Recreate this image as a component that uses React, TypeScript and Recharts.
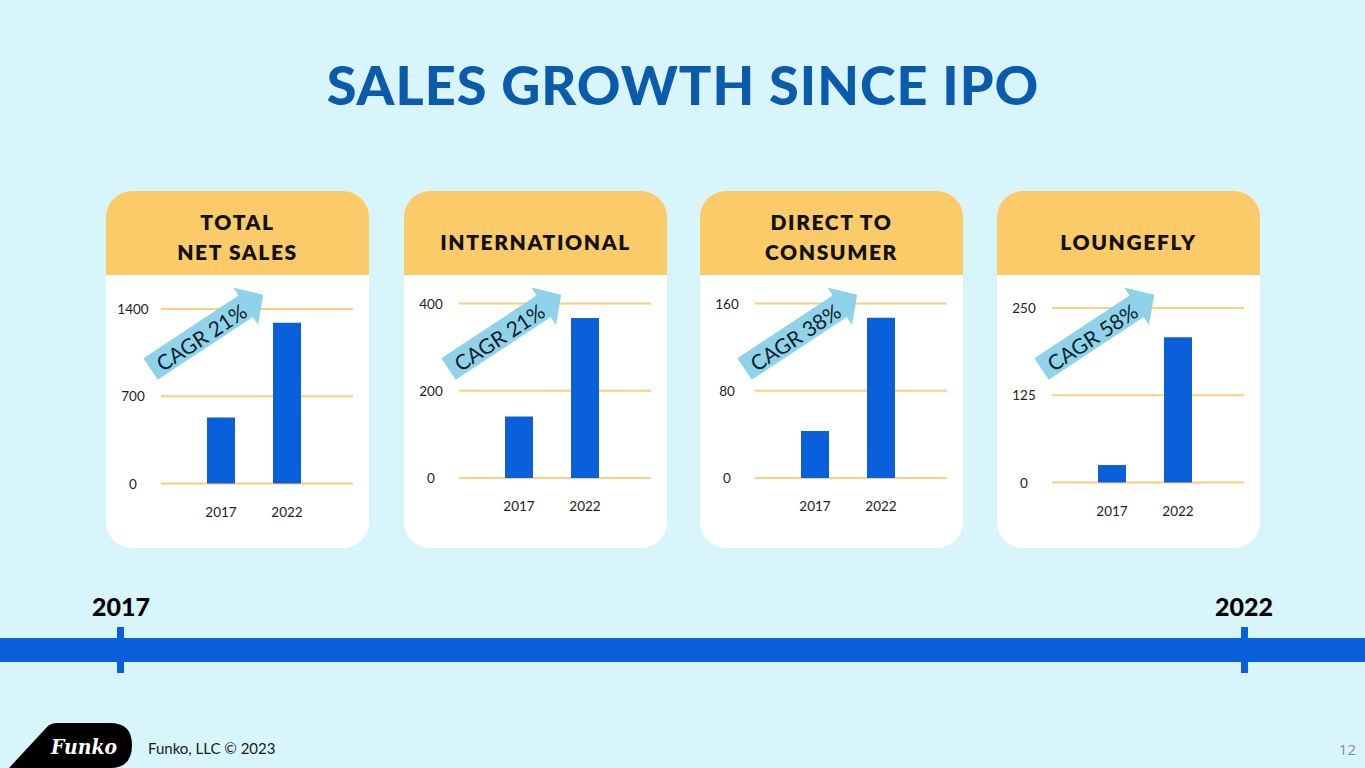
import React from 'react';
import { BarChart, Bar, XAxis, YAxis, CartesianGrid } from 'recharts';

// data (USD millions, approx.)
const years = ['2017', '2022'];
const totalNetSales = [530, 1290];
const international = [141, 367];
const directToConsumer = [43, 147];
const loungefly = [25, 208];

const totalTicks = [0, 700, 1400];
const internationalTicks = [0, 200, 400];
const dtcTicks = [0, 80, 160];
const loungeflyTicks = [0, 125, 250];

const panelTitles = [['TOTAL', 'NET SALES'], ['INTERNATIONAL'], ['DIRECT TO', 'CONSUMER'], ['LOUNGEFLY']];
const cagrLabels = ['CAGR 21%', 'CAGR 21%', 'CAGR 38%', 'CAGR 58%'];
const timelineYears = ['2017', '2022'];

const FONT = 'Lato, "Noto Sans", sans-serif';
const BG = '#D9F5FC';
const BLUE = '#0A5FDB';
const TITLE_BLUE = '#0B5BAD';
const YELLOW = '#FBCB69';
const GRID = '#F9D07C';
const ARROW = '#8FD3EA';

const CARD_W = 263;
const CARD_H = 357;
const CARD_TOP = 191;
const HEADER_H = 84;
const PLOT_H = 174.5;
const AXIS_H = 30;

const panels = [
  { left: 106, values: totalNetSales, ticks: totalTicks, plotTop: 118 },
  { left: 404, values: international, ticks: internationalTicks, plotTop: 112.5 },
  { left: 700, values: directToConsumer, ticks: dtcTicks, plotTop: 112.5 },
  { left: 997, values: loungefly, ticks: loungeflyTicks, plotTop: 117 },
];

const YTick = ({ x, y, payload }: any) => (
  <text x={x - 26} y={y} textAnchor="middle" dominantBaseline="central" fontSize={13.5} fill="#222" fontFamily={FONT}>
    {payload.value}
  </text>
);

const XTick = ({ x, y, payload }: any) => (
  <text x={x} y={y + 26} textAnchor="middle" dominantBaseline="central" fontSize={13.5} fill="#222" fontFamily={FONT}>
    {payload.value}
  </text>
);

function Panel({ index }: { index: number }) {
  const p = panels[index];
  const data = years.map((year, i) => ({ year, value: p.values[i] }));
  const max = p.ticks[p.ticks.length - 1];
  const bottom = CARD_H - p.plotTop - PLOT_H - AXIS_H;
  const lines = panelTitles[index];
  const lineYs = lines.length === 2 ? [30, 60] : [50];

  return (
    <div
      style={{
        position: 'absolute',
        left: p.left,
        top: CARD_TOP,
        width: CARD_W,
        height: CARD_H,
        borderRadius: 26,
        overflow: 'hidden',
        background: '#fff',
      }}
    >
      <div style={{ position: 'absolute', left: 0, top: 0, width: CARD_W, height: HEADER_H, background: YELLOW }} />
      <svg width={CARD_W} height={HEADER_H} style={{ position: 'absolute', left: 0, top: 0 }}>
        {lines.map((line, i) => (
          <text
            key={line}
            x={CARD_W / 2}
            y={lineYs[i]}
            textAnchor="middle"
            dominantBaseline="central"
            fontSize={21}
            fontWeight={800}
            letterSpacing={1.6}
            fill="#111"
            fontFamily={FONT}
          >
            {line}
          </text>
        ))}
      </svg>
      <div style={{ position: 'absolute', left: 0, top: 0 }}>
        <BarChart
          width={CARD_W}
          height={CARD_H}
          data={data}
          margin={{ top: p.plotTop, right: 16, bottom, left: 0 }}
        >
          <CartesianGrid vertical={false} stroke={GRID} strokeWidth={2} />
          <XAxis
            dataKey="year"
            height={AXIS_H}
            axisLine={false}
            tickLine={false}
            tickSize={0}
            padding={{ left: 27, right: 33 }}
            tick={<XTick />}
          />
          <YAxis
            type="number"
            domain={[0, max]}
            ticks={p.ticks}
            width={55}
            axisLine={false}
            tickLine={false}
            tickSize={0}
            tick={<YTick />}
          />
          <Bar dataKey="value" fill={BLUE} barSize={28} isAnimationActive={false} />
        </BarChart>
      </div>
      <svg width={CARD_W} height={CARD_H} style={{ position: 'absolute', left: 0, top: 0, pointerEvents: 'none' }}>
        <g transform="translate(44.5,178) rotate(-33.4)">
          <polygon points="0,-13 114,-13 114,-22.5 135,0 114,22.5 114,13 0,13" fill={ARROW} />
          <text
            x={60}
            y={1}
            textAnchor="middle"
            dominantBaseline="central"
            fontSize={21}
            fill="#0F1E2C"
            fontFamily={FONT}
          >
            {cagrLabels[index]}
          </text>
        </g>
      </svg>
    </div>
  );
}

export default function App() {
  return (
    <div
      style={{
        position: 'absolute',
        left: 0,
        top: 0,
        width: 1365,
        height: 768,
        background: BG,
        overflow: 'hidden',
        fontFamily: FONT,
      }}
    >
      <svg width={1365} height={768} style={{ position: 'absolute', left: 0, top: 0 }}>
        <text
          x={683}
          y={84}
          textAnchor="middle"
          dominantBaseline="central"
          fontSize={54}
          fontWeight={900}
          letterSpacing={1}
          fill={TITLE_BLUE}
          fontFamily={FONT}
        >
          SALES GROWTH SINCE IPO
        </text>

        {/* timeline */}
        <rect x={0} y={638} width={1365} height={24} fill={BLUE} />
        <rect x={117} y={627} width={7} height={46} fill={BLUE} />
        <rect x={1241} y={627} width={7} height={46} fill={BLUE} />
        <text x={121} y={606} textAnchor="middle" dominantBaseline="central" fontSize={25} fontWeight={900} fill="#000" fontFamily={FONT}>
          {timelineYears[0]}
        </text>
        <text x={1244} y={606} textAnchor="middle" dominantBaseline="central" fontSize={25} fontWeight={900} fill="#000" fontFamily={FONT}>
          {timelineYears[1]}
        </text>

        {/* footer */}
        <path d="M9,768 L47,727 Q51,723 57,723 L110,723 Q132,723 132,745 Q132,768 110,768 Z" fill="#000" />
        <text
          x={84}
          y={746}
          textAnchor="middle"
          dominantBaseline="central"
          fontSize={21}
          fontStyle="italic"
          fontWeight={700}
          fill="#fff"
          fontFamily='"DejaVu Serif", serif'
          textLength={66}
          lengthAdjust="spacingAndGlyphs"
        >
          Funko
        </text>
        <text x={148} y={748} dominantBaseline="central" fontSize={15} fill="#1a1a1a" fontFamily={FONT}>
          Funko, LLC © 2023
        </text>
        <text x={1356} y={749} textAnchor="end" dominantBaseline="central" fontSize={15} fill="#8a8a8a" fontFamily='"Open Sans", sans-serif'>
          12
        </text>
      </svg>

      {panels.map((_, i) => (
        <Panel key={i} index={i} />
      ))}
    </div>
  );
}
